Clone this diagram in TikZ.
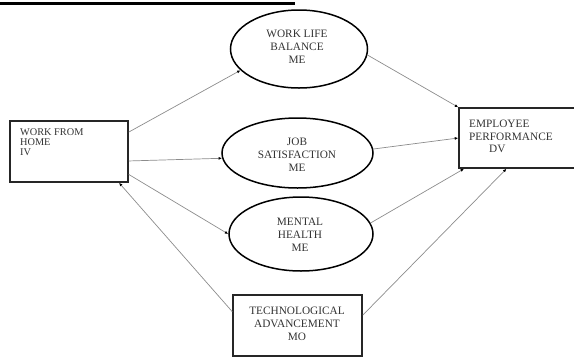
\documentclass[tikz,border=0pt]{standalone}
\usepackage{fontspec}
\setmainfont{Liberation Serif}
\usetikzlibrary{shapes.geometric,arrows.meta,calc}
\begin{document}
\begin{tikzpicture}[x=1pt,y=-1pt,
  oval/.style={ellipse,draw=black,line width=1.5pt,inner sep=0pt},
  box/.style={rectangle,draw=black!85,line width=1.5pt,inner sep=0pt},
  txt/.style={font=\fontsize{11.3}{13}\selectfont,text=black!80,align=center,inner sep=0pt},
  link/.style={draw=black!45,line width=0.7pt,-{Latex[length=3.5pt,width=3pt,black]}}]
\useasboundingbox (0,0) rectangle (574,357);
\draw[line width=3.3pt] (0,3.3) -- (295,3.3);
% shapes
\node[box,minimum width=118pt,minimum height=61pt] (wfh) at (69,151.5) {};
\node[oval,minimum width=137pt,minimum height=78pt] (wlb) at (299,49) {};
\node[oval,minimum width=151pt,minimum height=70pt] (js) at (297.5,153) {};
\node[oval,minimum width=144pt,minimum height=74pt] (mh) at (301,234) {};
\node[box,minimum width=121pt,minimum height=60pt] (ep) at (519.5,138) {};
\node[box,minimum width=129pt,minimum height=61pt] (tech) at (297.5,325.5) {};
% texts
\node[txt,align=left,anchor=north west,font=\fontsize{10.3}{10}\selectfont] (wfht) at (20,128.5) {WORK FROM\\HOME\\IV};
\node[txt] (wlbt) at (297,47) {WORK LIFE\\BALANCE\\ME};
\node[txt] (jst) at (297,155) {JOB\\SATISFACTION\\ME};
\node[txt] (mht) at (300,235) {MENTAL\\HEALTH\\ME};
\node[txt] (techt) at (297,324) {TECHNOLOGICAL\\ADVANCEMENT\\MO};
\node[txt,align=left,anchor=north west,font=\fontsize{11.3}{12.5}\selectfont] (ept) at (469,120) {EMPLOYEE\\PERFORMANCE\\\hspace{20pt}DV};
% connectors
\draw[link] (wfh.18) -- (wlb.200);
\draw[link] (wfh.-9) -- (js.184);
\draw[link] (wfh.-21.7) -- (mh.west);
\draw[link] (tech.168) -- (wfh.-32.4);
\draw[link] (wlb.-5) -- (ep.north west);
\draw[link] (js.3) -- (ep.west);
\draw[link] (mh.9) -- (ep.209.7);
\draw[link] (tech.9.2) -- (ep.247.4);
\end{tikzpicture}
\end{document}
